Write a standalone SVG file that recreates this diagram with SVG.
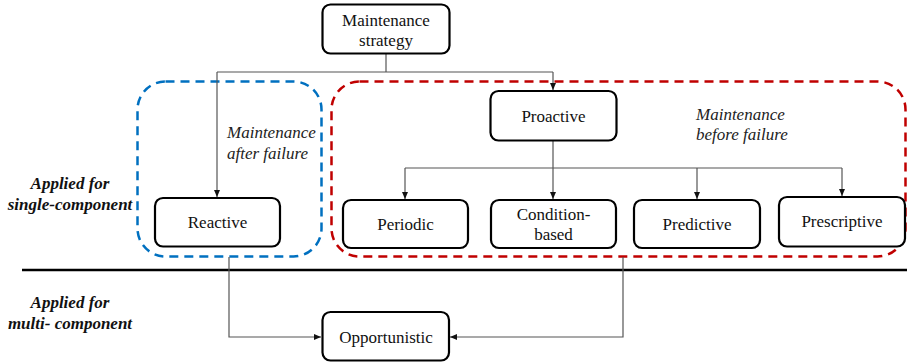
<svg xmlns="http://www.w3.org/2000/svg" width="907" height="363" viewBox="0 0 907 363">
<defs>
<marker id="arr" markerWidth="8" markerHeight="8" refX="7" refY="4" orient="auto" markerUnits="userSpaceOnUse">
<path d="M0,1 L7,4 L0,7 Z" fill="#111"/>
</marker>
<style>
.box{fill:#fff;stroke:#000;stroke-width:2.2}
.t{font-size:17px;fill:#111;text-anchor:middle}
.it{font-size:17px;font-style:italic;fill:#222}
.bi{font-size:17px;font-style:italic;font-weight:bold;fill:#111;text-anchor:middle}
.c{fill:none;stroke:#555;stroke-width:1.2}
.grp{fill:none;stroke-width:2.5;stroke-dasharray:9 6}
</style>
</defs>
<rect width="907" height="363" fill="#fff"/>
<g id="groups">
<rect id="reactive-group" class="grp" x="137.5" y="81.5" width="184" height="175" rx="28" stroke="#0070C0"/>
<rect id="proactive-group" class="grp" x="331.5" y="81.5" width="574" height="175" rx="28" stroke="#C00000"/>
</g>
<line id="divider" x1="22" y1="270" x2="907" y2="270" stroke="#000" stroke-width="2.5"/>
<g id="connectors">
<path class="c" d="M386,53 V72"/>
<path class="c" d="M217,72 H553"/>
<path class="c" d="M217,72 V197" marker-end="url(#arr)"/>
<path class="c" d="M553,72 V90" marker-end="url(#arr)"/>
<path class="c" d="M553,141 V199" marker-end="url(#arr)"/>
<path class="c" d="M405,168 H842"/>
<path class="c" d="M405,168 V199" marker-end="url(#arr)"/>
<path class="c" d="M697,168 V199" marker-end="url(#arr)"/>
<path class="c" d="M842,168 V196" marker-end="url(#arr)"/>
<path class="c" d="M229,257 V337 H321" marker-end="url(#arr)"/>
<path class="c" d="M623,257 V337 H450" marker-end="url(#arr)"/>
</g>
<g font-family="Liberation Serif, Times New Roman, Times, DejaVu Serif, serif">
<g id="maintenance-strategy">
<rect class="box" x="322.5" y="4.5" width="127" height="49" rx="8"/>
<text class="t" x="386" y="25.5">Maintenance</text>
<text class="t" x="386" y="45.5">strategy</text>
</g>
<g id="proactive">
<rect class="box" x="490.5" y="91" width="126" height="49.5" rx="8"/>
<text class="t" x="553.5" y="121.5">Proactive</text>
</g>
<g id="reactive">
<rect class="box" x="155" y="198" width="125" height="48.5" rx="8"/>
<text class="t" x="217.5" y="228">Reactive</text>
</g>
<g id="periodic">
<rect class="box" x="343" y="200" width="125" height="48" rx="8"/>
<text class="t" x="405.5" y="230">Periodic</text>
</g>
<g id="condition-based">
<rect class="box" x="491" y="200" width="125" height="48" rx="8"/>
<text class="t" x="553.5" y="220">Condition-</text>
<text class="t" x="553.5" y="240">based</text>
</g>
<g id="predictive">
<rect class="box" x="634" y="200" width="126" height="48" rx="8"/>
<text class="t" x="697" y="230">Predictive</text>
</g>
<g id="prescriptive">
<rect class="box" x="779" y="197" width="126" height="49.5" rx="8"/>
<text class="t" x="842" y="227">Prescriptive</text>
</g>
<g id="opportunistic">
<rect class="box" x="322.5" y="312" width="126.5" height="48.5" rx="8"/>
<text class="t" x="386" y="342.5">Opportunistic</text>
</g>
<g id="labels">
<text class="it" x="227" y="137.5">Maintenance</text>
<text class="it" x="227" y="158.5">after failure</text>
<text class="it" x="696" y="119.5">Maintenance</text>
<text class="it" x="696" y="140">before failure</text>
<text class="bi" x="70" y="188.5">Applied for</text>
<text class="bi" x="70" y="209.5">single-component</text>
<text class="bi" x="70" y="307.5">Applied for</text>
<text class="bi" x="70" y="328.5">multi- component</text>
</g>
</g>
</svg>
